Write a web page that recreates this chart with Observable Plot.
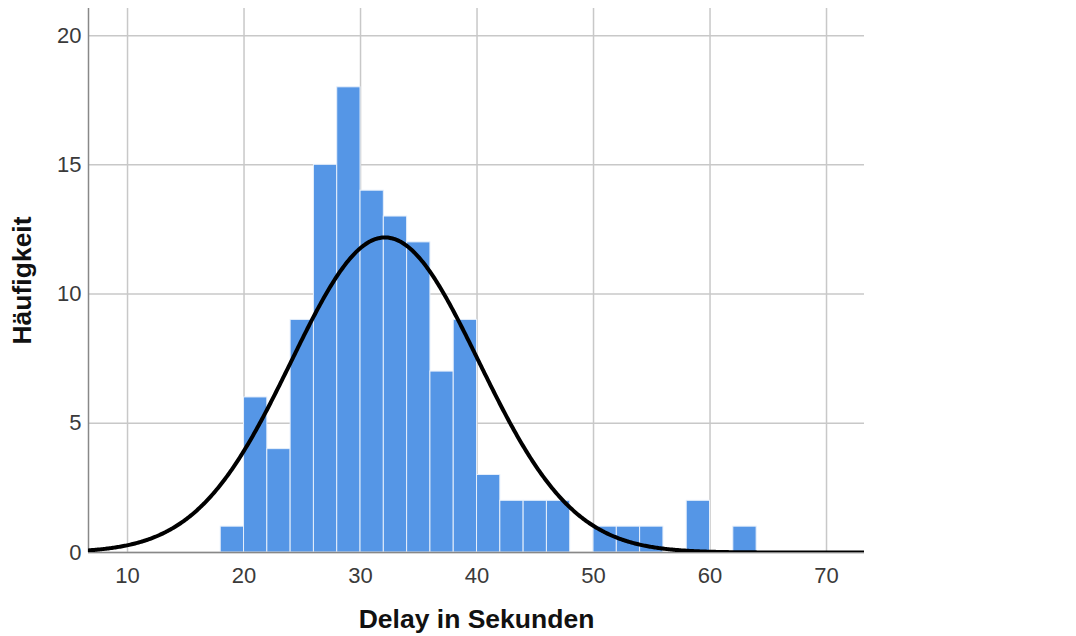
<!DOCTYPE html>
<html>
<head>
<meta charset="utf-8">
<script src="https://cdn.jsdelivr.net/npm/d3@7"></script>
<script src="https://cdn.jsdelivr.net/npm/@observablehq/plot@0.6"></script>
<style>
  html, body { margin: 0; padding: 0; background: #fff; }
  #chart svg { display: block; }
</style>
</head>
<body>
<div id="chart"></div>
<script>
// Histogram bins (start of each 2-second bin) and counts
const binStarts = [18, 20, 22, 24, 26, 28, 30, 32, 34, 36, 38, 40, 42, 44, 46, 48, 50, 52, 54, 56, 58, 60, 62];
const counts    = [ 1,  6,  4,  9, 15, 18, 14, 13, 12,  7,  9,  3,  2,  2,  2,  0,  1,  1,  1,  0,  2,  0,  1];
const binWidth = 2;

// Normal curve parameters (SPSS overlay)
const meanDelay = 32.1;
const sdDelay = 8.05;

const xTicks = [10, 20, 30, 40, 50, 60, 70];
const yTicks = [0, 5, 10, 15, 20];
const xDomain = [6.65, 73.26];
const yDomain = [0, 21.05];

const xLabel = "Delay in Sekunden";
const yLabel = "Häufigkeit";

const bars = binStarts.map((s, i) => ({x1: s, x2: s + binWidth, count: counts[i]})).filter(d => d.count > 0);
const total = d3.sum(counts);
const curve = d3.range(xDomain[0], xDomain[1] + 0.1, 0.1).map(x => ({
  x,
  y: total * binWidth / (sdDelay * Math.sqrt(2 * Math.PI)) * Math.exp(-((x - meanDelay) ** 2) / (2 * sdDelay ** 2))
}));

const chart = Plot.plot({
  width: 1076,
  height: 636,
  marginLeft: 88,
  marginRight: 212,
  marginTop: 8,
  marginBottom: 84,
  style: {fontFamily: "'Liberation Sans', Arial, sans-serif", fontSize: "22px", color: "#3a3a3a", background: "#fff"},
  x: {domain: xDomain, ticks: xTicks},
  y: {domain: yDomain, ticks: yTicks},
  marks: [
    Plot.gridX(xTicks, {stroke: "#c8c8c8", strokeOpacity: 1, strokeWidth: 1.5}),
    Plot.gridY(yTicks, {stroke: "#c8c8c8", strokeOpacity: 1, strokeWidth: 1.5}),
    Plot.rectY(bars, {x1: "x1", x2: "x2", y: "count", fill: "#5596e6", stroke: "#e6effb", strokeWidth: 1}),
    Plot.ruleX([xDomain[0]], {stroke: "#888", strokeWidth: 1.5}),
    Plot.ruleY([0], {stroke: "#888", strokeWidth: 1.5}),
    Plot.line(curve, {x: "x", y: "y", stroke: "#000", strokeWidth: 4, clip: true}),
    Plot.axisX(xTicks, {tickSize: 0, tickPadding: 15, label: null, fontSize: 22, fill: "#3a3a3a"}),
    Plot.axisY(yTicks, {tickSize: 0, tickPadding: 7, label: null, fontSize: 22, fill: "#3a3a3a"}),
    Plot.text([xLabel], {frameAnchor: "bottom", dy: 75, fontSize: 26.5, fontWeight: "bold", fill: "#111"}),
    Plot.text([yLabel], {frameAnchor: "left", textAnchor: "middle", dx: -66, rotate: -90, fontSize: 26.5, fontWeight: "bold", fill: "#111"})
  ]
});
document.getElementById("chart").append(chart);
</script>
</body>
</html>
